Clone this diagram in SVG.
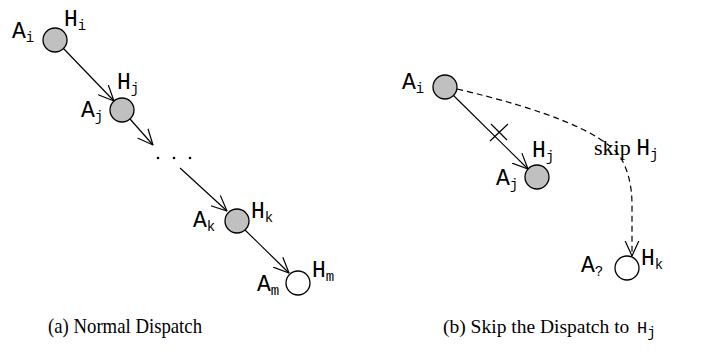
<svg xmlns="http://www.w3.org/2000/svg" width="722" height="352" viewBox="0 0 722 352">
<style>
.n{stroke:#000;stroke-width:1.3}
.g{fill:#c0c0c0}
.w{fill:#fff}
.m{font-family:"Liberation Mono","DejaVu Sans Mono",monospace;font-size:23px;fill:#000}
.s{font-size:14px}
.t{font-family:"Liberation Serif","Times New Roman",serif;font-size:21px;fill:#000}
.c{fill:none;stroke:#000;stroke-width:1.2}
</style>
<defs>
<marker id="arr" viewBox="0 0 16 16" refX="15.5" refY="8" markerWidth="16" markerHeight="16" orient="auto" markerUnits="userSpaceOnUse">
<path d="M0,1 L15.5,8 L0,15" fill="none" stroke="#000" stroke-width="1.2"/>
</marker>
</defs>
<rect width="722" height="352" fill="#fff"/>
<g id="connectors">
<line class="c" x1="63" y1="48" x2="114" y2="101" marker-end="url(#arr)"/>
<line class="c" x1="130" y1="119" x2="153" y2="145" marker-end="url(#arr)"/>
<line class="c" x1="180" y1="168" x2="227" y2="211" marker-end="url(#arr)"/>
<line class="c" x1="244" y1="229" x2="289" y2="273" marker-end="url(#arr)"/>
<line class="c" x1="453" y1="95" x2="528" y2="169" marker-end="url(#arr)"/>
<path class="c" stroke-width="1.4" d="M490,141 L508,124 M491,124 L507,140"/>
<path class="c" stroke-dasharray="6,4" d="M457,89 Q590,120 619,155 Q632,175 632,205 L632,256" marker-end="url(#arr)"/>
</g>
<g id="dots">
<circle cx="158" cy="158" r="1.3" fill="#000"/>
<circle cx="174" cy="158" r="1.3" fill="#000"/>
<circle cx="190" cy="158" r="1.3" fill="#000"/>
</g>
<g id="a-Ai">
<circle class="n g" cx="55" cy="40" r="12"/>
<text class="m" x="12" y="38">A<tspan class="s" dy="4">i</tspan></text>
<text class="m" x="64" y="26">H<tspan class="s" dy="4">i</tspan></text>
</g>
<g id="a-Aj">
<circle class="n g" cx="122" cy="110" r="12"/>
<text class="m" x="81" y="117">A<tspan class="s" dy="4">j</tspan></text>
<text class="m" x="117" y="89">H<tspan class="s" dy="4">j</tspan></text>
</g>
<g id="a-Ak">
<circle class="n g" cx="237" cy="221" r="12"/>
<text class="m" x="193" y="227">A<tspan class="s" dy="4">k</tspan></text>
<text class="m" x="251" y="218">H<tspan class="s" dy="4">k</tspan></text>
</g>
<g id="a-Am">
<circle class="n w" cx="298" cy="283" r="12"/>
<text class="m" x="257" y="291">A<tspan class="s" dy="4">m</tspan></text>
<text class="m" x="312" y="277">H<tspan class="s" dy="4">m</tspan></text>
</g>
<g id="b-Ai">
<circle class="n g" cx="445" cy="87" r="12"/>
<text class="m" x="402" y="89">A<tspan class="s" dy="4">i</tspan></text>
</g>
<g id="b-Aj">
<circle class="n g" cx="537" cy="177" r="12"/>
<text class="m" x="496" y="185">A<tspan class="s" dy="4">j</tspan></text>
<text class="m" x="532" y="157">H<tspan class="s" dy="4">j</tspan></text>
</g>
<g id="b-A?">
<circle class="n w" cx="627" cy="268" r="12"/>
<text class="m" x="581" y="272">A<tspan class="s" dy="4">?</tspan></text>
<text class="m" x="641" y="265">H<tspan class="s" dy="4">k</tspan></text>
</g>
<g id="labels">
<text class="t" x="594" y="155" style="font-size:22px">skip <tspan class="m">H</tspan><tspan class="m s" dy="4">j</tspan></text>
<text class="t" x="48" y="333" textLength="154" lengthAdjust="spacingAndGlyphs">(a) Normal Dispatch</text>
<text class="t" x="443" y="333" style="font-size:19.5px">(b) Skip the Dispatch to</text>
<text class="m" x="637" y="333" style="font-size:17px">H<tspan class="s" dy="4">j</tspan></text>
</g>
</svg>
